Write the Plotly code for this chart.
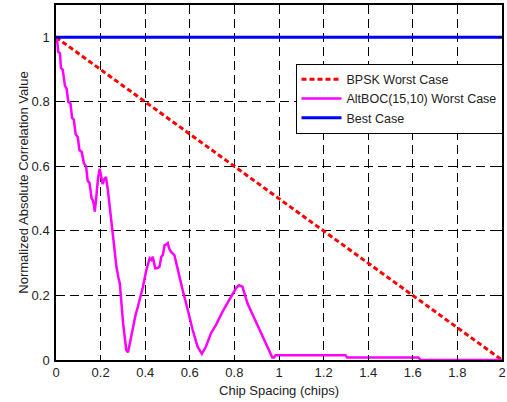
import plotly.graph_objects as go

# Data
bpsk_x = [0, 2]
bpsk_y = [1, 0]
best_x = [0, 2]
best_y = [1, 1]
altboc_x = [0, 0.005, 0.01, 0.018, 0.022, 0.03, 0.04, 0.048, 0.055, 0.065, 0.072, 0.08,
            0.088, 0.098, 0.105, 0.115, 0.125, 0.135, 0.142, 0.15, 0.16, 0.165, 0.17, 0.174,
            0.18, 0.188, 0.196, 0.203, 0.209, 0.216, 0.224, 0.232, 0.241, 0.256, 0.271, 0.28,
            0.286, 0.301, 0.315, 0.323, 0.33, 0.345, 0.357, 0.367, 0.39, 0.405, 0.42, 0.428,
            0.434, 0.445, 0.455, 0.464, 0.472, 0.479, 0.487, 0.495, 0.501, 0.508, 0.516, 0.531,
            0.546, 0.568, 0.591, 0.613, 0.635, 0.645, 0.654, 0.672, 0.69, 0.695, 0.717, 0.725,
            0.747, 0.777, 0.799, 0.81, 0.821, 0.836, 0.859, 0.888, 0.918, 0.948, 0.97, 0.978,
            0.985, 1.298, 1.305, 1.625, 1.635, 2.0]
altboc_y = [1.0, 0.99, 0.955, 0.95, 0.905, 0.90, 0.85, 0.84, 0.80, 0.795, 0.75, 0.745,
            0.70, 0.69, 0.65, 0.645, 0.61, 0.60, 0.555, 0.55, 0.50, 0.495, 0.48, 0.46,
            0.50, 0.56, 0.593, 0.57, 0.545, 0.56, 0.567, 0.53, 0.475, 0.382, 0.289, 0.255,
            0.238, 0.114, 0.031, 0.024, 0.05, 0.103, 0.14, 0.165, 0.227, 0.279, 0.315, 0.31,
            0.32, 0.284, 0.285, 0.289, 0.32, 0.325, 0.356, 0.358, 0.362, 0.345, 0.335, 0.325,
            0.279, 0.217, 0.155, 0.093, 0.041, 0.03, 0.019, 0.041, 0.07, 0.083, 0.108, 0.119,
            0.15, 0.186, 0.211, 0.225, 0.232, 0.227, 0.175, 0.131, 0.085, 0.041, 0.008, 0.008,
            0.015, 0.015, 0.008, 0.008, 0.0, 0.0]

FONT = "Liberation Sans, Arial, Helvetica, sans-serif"
FS = 13

fig = go.Figure()
fig.add_trace(go.Scatter(x=bpsk_x, y=bpsk_y, mode="lines", name="BPSK Worst Case",
                         line=dict(color="#ff0000", width=3, dash="5px,3px")))
fig.add_trace(go.Scatter(x=altboc_x, y=altboc_y, mode="lines", name="AltBOC(15,10) Worst Case",
                         line=dict(color="#ff00ff", width=2.5)))
fig.add_trace(go.Scatter(x=best_x, y=best_y, mode="lines", name="Best Case",
                         line=dict(color="#0000ff", width=3)))

axis_common = dict(
    showline=True, linecolor="black", linewidth=1.5, mirror="ticks",
    ticks="inside", ticklen=4, tickcolor="black", automargin=False,
    showgrid=True, gridcolor="black", gridwidth=1, griddash="9px,5px",
    zeroline=False, tickfont=dict(family=FONT, size=FS, color="#222"),
)

fig.update_layout(
    width=507, height=402,
    margin=dict(l=56, r=5, t=5, b=42, autoexpand=False),
    paper_bgcolor="white", plot_bgcolor="white",
    font=dict(family=FONT, size=FS, color="#222"),
    xaxis=dict(range=[0, 2], dtick=0.2, tick0=0, ticklabelstandoff=0,
               title=dict(text="Chip Spacing (chips)", font=dict(size=FS), standoff=7),
               **axis_common),
    yaxis=dict(range=[0, 1.1], dtick=0.2, tick0=0, ticklabelstandoff=2,
               title=dict(text="Normalized Absolute Correlation Value", font=dict(size=FS), standoff=0),
               **axis_common),
    legend=dict(x=0.537, y=0.835, xanchor="left", yanchor="top",
                bgcolor="white", bordercolor="black", borderwidth=1,
                font=dict(family=FONT, size=12.5, color="#222"),
                itemwidth=40, tracegroupgap=0),
    showlegend=True,
)

fig.write_html("out.html")
